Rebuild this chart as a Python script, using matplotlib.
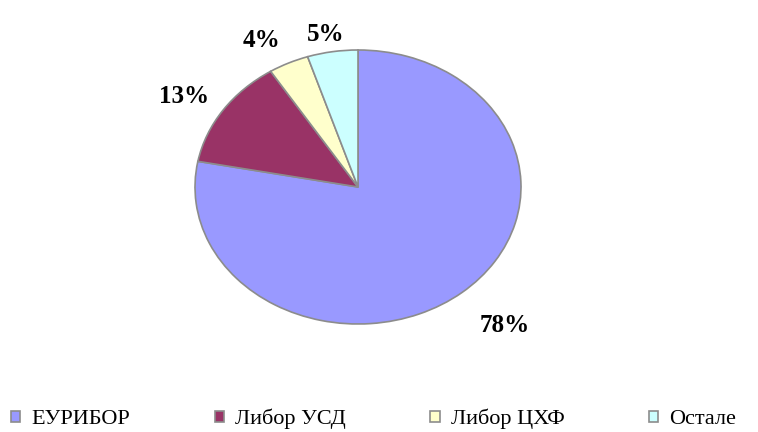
import matplotlib.pyplot as plt

labels = ["ЕУРИБОР", "Либор УСД", "Либор ЦХФ", "Остале"]
shares = [78, 13, 4, 5]
colors = ["#9999FF", "#993366", "#FFFFCC", "#CCFFFF"]
# where the percentage labels sit, in pie units (radius = 1)
label_xy = [(0.90, -1.01), (-1.07, 0.66), (-0.59, 1.07), (-0.20, 1.11)]

plt.rcParams["font.family"] = ["Liberation Serif", "DejaVu Serif"]

W, H = 758, 432
fig = plt.figure(figsize=(W / 100, H / 100), dpi=100)
# ellipse: centre (358,187), rx 163, ry 137 in pixels
ax = fig.add_axes([195 / W, (H - 324) / H, 326 / W, 274 / H])

wedges, texts, autotexts = ax.pie(
    shares, colors=colors, startangle=90, counterclock=False,
    autopct="%d%%", pctdistance=1.25,
    wedgeprops=dict(edgecolor="#8c8c8c", linewidth=1.2),
    textprops=dict(fontsize=18, fontweight="bold", color="black"),
)
for t, xy in zip(autotexts, label_xy):
    t.set_position(xy)
    t.set_ha("center")
    t.set_va("center")
ax.set_aspect("auto")
ax.set_xlim(-1, 1)
ax.set_ylim(-1, 1)
ax.axis("off")

fig.legend(wedges, labels, loc="center left",
           bbox_to_anchor=(11 / W, 1 - 419 / H),
           ncol=4, frameon=False, fontsize=16, handlelength=0.42, handleheight=0.42,
           handletextpad=0.5, columnspacing=3.8, borderaxespad=0, borderpad=0)

fig.savefig("out.png", dpi=100, facecolor="white")
